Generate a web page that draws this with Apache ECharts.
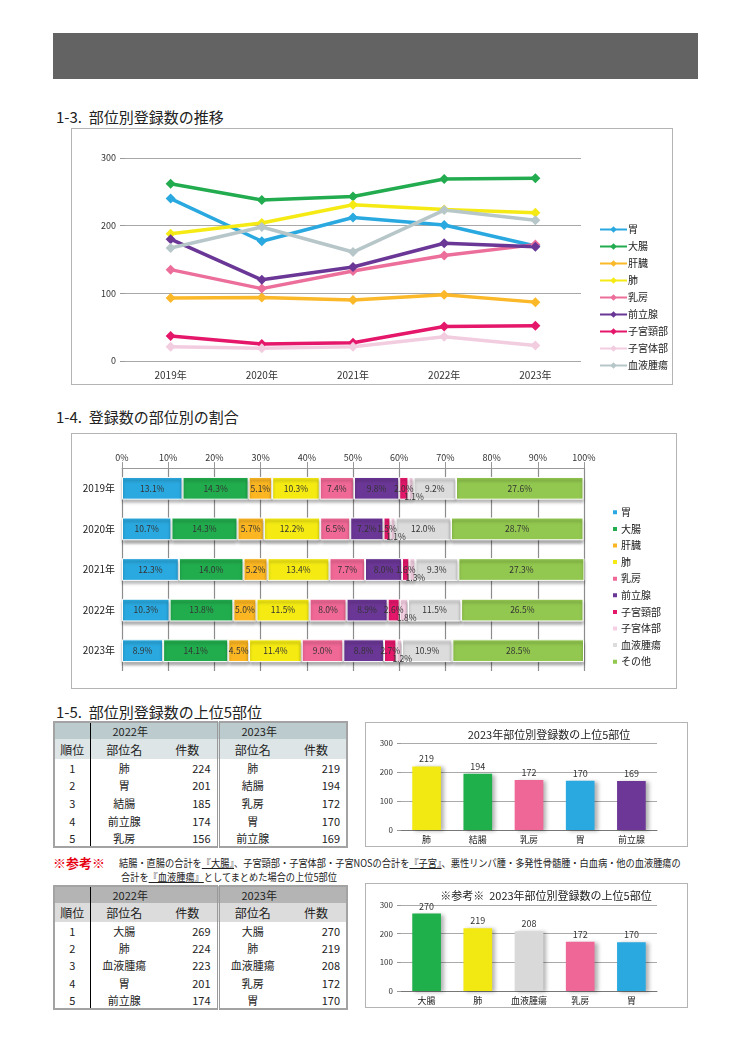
<!DOCTYPE html>
<html><head><meta charset="utf-8">
<script src="https://cdn.jsdelivr.net/npm/echarts@6/dist/echarts.min.js"></script>
<style>
html,body{margin:0;padding:0;background:#fff;}
body{width:751px;height:1063px;position:relative;overflow:hidden;font-family:"Noto Sans CJK JP","Noto Sans",sans-serif;color:#222;}
.bar{position:absolute;left:53px;top:33px;width:645px;height:46px;background:#636363;}
.h{position:absolute;left:56px;font-size:15px;line-height:18px;white-space:nowrap;color:#222;}
.box{position:absolute;border:1px solid #b4b4b4;box-sizing:border-box;background:#fff;}
.chart{position:absolute;left:0;top:0;width:100%;height:100%;}
table.rk{position:absolute;left:53px;width:295px;border-collapse:collapse;table-layout:fixed;font-size:11px;border:2px solid #a3a3a3;}
table.rk td{padding:0;text-align:center;white-space:nowrap;}
table.rk td.num{text-align:right;padding-right:6px;}
table.rk td.sep{border-left:1px solid #000;}
table.rk td.sep2{border-left:3px double #9a9a9a;}
table.rk td.yr{text-align:left;padding-left:22px;}
.note{position:absolute;font-size:10px;line-height:14px;white-space:nowrap;transform:scaleX(0.92);transform-origin:0 0;}
.note u{text-decoration:underline;}
.ref{position:absolute;left:53px;top:855px;color:#e60012;font-weight:bold;font-size:13px;line-height:15px;}
</style></head>
<body>
<div class="bar"></div>
<div class="h" style="top:108px;">1-3.&nbsp; 部位別登録数の推移</div>
<div class="box" style="left:71px;top:128px;width:602px;height:257px;"><div id="c1" class="chart"></div></div>
<div class="h" style="top:408px;">1-4.&nbsp; 登録数の部位別の割合</div>
<div class="box" style="left:71px;top:433px;width:606px;height:256px;"><div id="c2" class="chart"></div></div>
<div class="h" style="top:703px;">1-5.&nbsp; 部位別登録数の上位5部位</div>
<table class="rk" id="t1" style="top:721px;"></table>
<div class="box" style="left:365px;top:722px;width:323px;height:125px;"><div id="c3" class="chart"></div></div>
<div class="ref">※参考※</div>
<div class="note" style="left:119px;top:856px;">結腸・直腸の合計を<u>『大腸』</u>、子宮頸部・子宮体部・子宮NOSの合計を<u>『子宮』</u>、悪性リンパ腫・多発性骨髄腫・白血病・他の血液腫瘍の</div>
<div class="note" style="left:121px;top:870px;">合計を<u>『血液腫瘍』</u>としてまとめた場合の上位5部位</div>
<table class="rk" id="t2" style="top:885px;"></table>
<div class="box" style="left:365px;top:883px;width:323px;height:125px;"><div id="c4" class="chart"></div></div>
<script>
// ---------- data ----------
const years = ['2019年','2020年','2021年','2022年','2023年'];
const lineSites = ['胃','大腸','肝臓','肺','乳房','前立腺','子宮頸部','子宮体部','血液腫瘍'];
const stomach    = [240,177,212,201,170];
const colorectal = [262,238,243,269,270];
const liver      = [93,94,90,98,87];
const lung       = [188,204,231,224,219];
const breast     = [135,107,133,156,172];
const prostate   = [180,120,139,174,169];
const cervix     = [37,25,27,51,52];
const uterus     = [21,19,21,36,23];
const blood      = [167,198,161,223,208];

const shareSites = ['胃','大腸','肝臓','肺','乳房','前立腺','子宮頸部','子宮体部','血液腫瘍','その他'];
const shareStomach    = [13.1,10.7,12.3,10.3,8.9];
const shareColorectal = [14.3,14.3,14.0,13.8,14.1];
const shareLiver      = [5.1,5.7,5.2,5.0,4.5];
const shareLung       = [10.3,12.2,13.4,11.5,11.4];
const shareBreast     = [7.4,6.5,7.7,8.0,9.0];
const shareProstate   = [9.8,7.2,8.0,8.9,8.8];
const shareCervix     = [2.0,1.5,1.6,2.6,2.7];
const shareUterus     = [1.1,1.1,1.3,1.8,1.2];
const shareBlood      = [9.2,12.0,9.3,11.5,10.9];
const shareOther      = [27.6,28.7,27.3,26.5,28.5];
const pctTicks = ['0%','10%','20%','30%','40%','50%','60%','70%','80%','90%','100%'];

const ranks = [1,2,3,4,5];
const top2022Sites  = ['肺','胃','結腸','前立腺','乳房'];
const top2022Counts = [224,201,185,174,156];
const top2023Sites  = ['肺','結腸','乳房','胃','前立腺'];
const top2023Counts = [219,194,172,170,169];
const ref2022Sites  = ['大腸','肺','血液腫瘍','胃','前立腺'];
const ref2022Counts = [269,224,223,201,174];
const ref2023Sites  = ['大腸','肺','血液腫瘍','乳房','胃'];
const ref2023Counts = [270,219,208,172,170];

// ---------- styles ----------
const FF = '"Noto Sans CJK JP","Noto Sans",sans-serif';
const lineColors = ['#2aa9e0','#22ac4f','#fbb829','#f5ea14','#ec6e9a','#6b3797','#e5176b','#f2cde0','#b7c7c9'];
const shareColors = ['#2aa9e0','#21ad4d','#fbb621','#f5eb13','#f06896','#6b3796','#e5176b','#f6cfe3','#dcdcdc','#92c84f'];
const siteColor = {'肺':'#f2e912','結腸':'#1faf4b','大腸':'#1faf4b','乳房':'#ef6796','胃':'#2aa9e0','前立腺':'#6c3797','血液腫瘍':'#d9d9d9'};

// ---------- chart 1: line ----------
const lineData = [stomach,colorectal,liver,lung,breast,prostate,cervix,uterus,blood];
const c1 = echarts.init(document.getElementById('c1'));
c1.setOption({
  animation:false,
  textStyle:{fontFamily:FF},
  grid:{left:53,right:91,top:29,bottom:23},
  legend:{orient:'vertical',left:522,top:89,itemWidth:27,itemHeight:8,itemGap:4,
    textStyle:{fontSize:10,color:'#222',lineHeight:13,padding:[0,0,0,-4]},data:lineSites},
  xAxis:{type:'category',data:years,boundaryGap:true,axisLine:{show:false},axisTick:{show:false},
    axisLabel:{fontSize:10,color:'#333',margin:9}},
  yAxis:{type:'value',min:0,max:300,interval:100,axisLine:{show:false},
    axisTick:{show:true,length:5,lineStyle:{color:'#999'}},
    axisLabel:{fontSize:9,color:'#333',margin:9},
    splitLine:{lineStyle:{color:'#a8a8a8',width:1}}},
  series: lineSites.map((n,i)=>({name:n,type:'line',data:lineData[i],symbol:'diamond',symbolSize:10,
    lineStyle:{width:3.5,color:lineColors[i]},itemStyle:{color:lineColors[i]}}))
});

// ---------- chart 2: stacked percentage bar ----------
const shareData = [shareStomach,shareColorectal,shareLiver,shareLung,shareBreast,shareProstate,shareCervix,shareUterus,shareBlood,shareOther];
const c2 = echarts.init(document.getElementById('c2'));
c2.setOption({
  animation:false,
  textStyle:{fontFamily:FF},
  grid:{left:50,right:92,top:34,bottom:17},
  legend:{orient:'vertical',left:534,top:67,itemWidth:6,itemHeight:6,itemGap:4,icon:'rect',
    textStyle:{fontSize:10,color:'#222',lineHeight:12.6,padding:[0,0,0,-2]},data:shareSites},
  xAxis:{type:'value',position:'top',min:0,max:100,interval:10,
    axisLine:{show:true,lineStyle:{color:'#999'}},axisTick:{show:true,length:6,lineStyle:{color:'#999'}},
    axisLabel:{fontSize:9,color:'#333',margin:6,formatter:(v)=>pctTicks[v/10]},
    splitLine:{show:true,lineStyle:{color:'#8c8c8c',width:1.2}}},
  yAxis:{type:'category',data:years,inverse:true,axisLine:{show:false},axisTick:{show:false},
    axisLabel:{fontSize:10,color:'#222',margin:7}},
  series: shareSites.map((n,i)=>({name:n,type:'bar',stack:'s',barWidth:'56%',data:shareData[i],
    itemStyle:{color:shareColors[i],borderColor:'#fff',borderWidth:1,shadowColor:'rgba(0,0,0,0.35)',shadowBlur:3,shadowOffsetY:3},
    label:{show:true,position:'inside',fontSize:8.5,color:'#333',formatter:(p)=>p.value.toFixed(1)+'%',
      offset: n==='子宮体部' ? [3,8] : [0,0]}}))
});

// ---------- charts 3 & 4: top5 bars ----------
function topBar(id,title,titleX,sites,counts,top){
  const c = echarts.init(document.getElementById(id));
  c.setOption({
    animation:false,
    textStyle:{fontFamily:FF},
    title:{text:title,left:titleX,top:1,textAlign:'center',textStyle:{fontSize:11,fontWeight:'normal',color:'#222'}},
    grid:{left:35,right:30,top:top,bottom:16},
    xAxis:{type:'category',data:sites,axisLine:{lineStyle:{color:'#777'}},axisTick:{show:false},
      axisLabel:{fontSize:9,color:'#222',margin:5}},
    yAxis:{type:'value',min:0,max:300,interval:100,axisLine:{show:false},
      axisTick:{show:true,length:4,lineStyle:{color:'#999'}},
      axisLabel:{fontSize:8,color:'#333',margin:8},splitLine:{lineStyle:{color:'#aaa'}}},
    series:[{type:'bar',barWidth:'56%',data:counts.map((v,i)=>({value:v,itemStyle:{color:siteColor[sites[i]]}})),
      itemStyle:{shadowColor:'rgba(0,0,0,0.3)',shadowBlur:4,shadowOffsetX:3,shadowOffsetY:1},
      label:{show:true,position:'top',fontSize:9,color:'#333',distance:3}}]
  });
}
topBar('c3','2023年部位別登録数の上位5部位',178,top2023Sites,top2023Counts,20);
topBar('c4','※参考※  2023年部位別登録数の上位5部位',175,ref2023Sites,ref2023Counts,21);

// ---------- tables ----------
function buildTable(id,s22,n22,s23,n23,c1,c2,h1,h2,rh){
  const t = document.getElementById(id);
  let html = '<colgroup><col style="width:36px"><col style="width:68px"><col style="width:60px"><col style="width:68px"><col style="width:61px"></colgroup>';
  html += `<tr style="height:${h1}px;background:${c1}"><td></td><td class="sep yr" colspan="2">2022年</td><td class="sep2 yr" colspan="2">2023年</td></tr>`;
  html += `<tr style="height:${h2}px;background:${c2};font-size:12px"><td>順位</td><td class="sep">部位名</td><td>件数</td><td class="sep2">部位名</td><td style="text-align:center">件数</td></tr>`;
  ranks.forEach((r,i)=>{
    html += `<tr style="height:${rh}px"><td>${r}</td><td class="sep">${s22[i]}</td><td class="num">${n22[i]}</td><td class="sep2">${s23[i]}</td><td class="num">${n23[i]}</td></tr>`;
  });
  t.innerHTML = html;
}
buildTable('t1',top2022Sites,top2022Counts,top2023Sites,top2023Counts,'#bccbce','#dde5e7',16,20,17.6);
buildTable('t2',ref2022Sites,ref2022Counts,ref2023Sites,ref2023Counts,'#b4b4b4','#dcdcdc',17,19,17.4);
</script>
</body></html>
